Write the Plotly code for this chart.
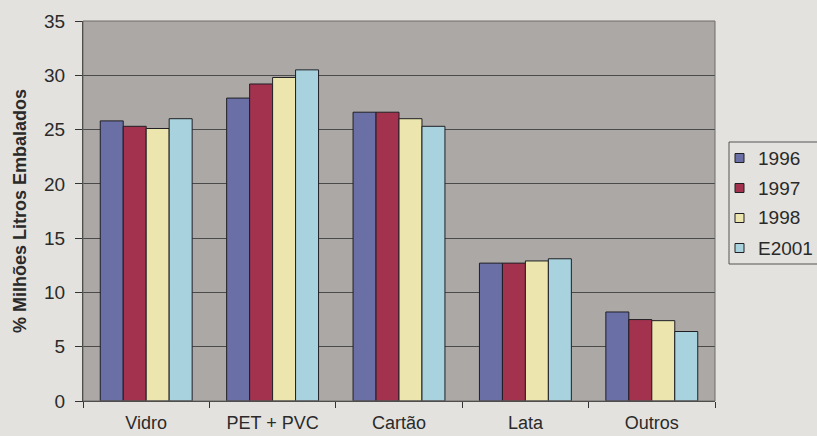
import plotly.graph_objects as go

categories = ["Vidro", "PET + PVC", "Cartão", "Lata", "Outros"]
years = ["1996", "1997", "1998", "E2001"]
v1996 = [25.8, 27.9, 26.6, 12.7, 8.2]
v1997 = [25.3, 29.2, 26.6, 12.7, 7.5]
v1998 = [25.1, 29.8, 26.0, 12.9, 7.4]
v2001 = [26.0, 30.5, 25.3, 13.1, 6.4]
colors = ["#6A6FA6", "#A3324E", "#ECE6AE", "#A8D3DE"]

series = [v1996, v1997, v1998, v2001]

W, H = 817, 436
ML, MR, MT, MB = 83, 102, 21, 35

fig = go.Figure()
for name, vals, col in zip(years, series, colors):
    fig.add_trace(go.Bar(
        x=categories, y=vals, name=name,
        marker=dict(color=col, line=dict(color="#1f1f24", width=1)),
        showlegend=False,
    ))

font_family = "Liberation Sans, Arial, sans-serif"
text_col = "#2a2a2a"

fig.update_layout(
    width=W, height=H,
    margin=dict(l=ML, r=MR, t=MT, b=MB, autoexpand=False),
    paper_bgcolor="#E4E2DE",
    plot_bgcolor="#ACA8A6",
    barmode="group",
    bargap=0.273,
    bargroupgap=0,
    font=dict(family=font_family, color=text_col),
)

fig.update_xaxes(
    type="category", tickson="boundaries",
    ticks="outside", ticklen=6, tickcolor="#333333",
    showline=True, linecolor="#333333", linewidth=1,
    tickfont=dict(size=18),
    showgrid=False, automargin=False,
    ticklabelstandoff=5,
)
fig.update_yaxes(
    range=[0, 35], dtick=5, tick0=0,
    ticks="outside", ticklen=7, tickcolor="#333333",
    showline=True, linecolor="#333333", linewidth=1,
    showgrid=True, gridcolor="#4a4a4a", gridwidth=1,
    zeroline=False,
    tickfont=dict(size=19),
    ticklabelstandoff=6,
    title=dict(text="<b>% Milhões Litros Embalados</b>", font=dict(size=18), standoff=12),
    automargin=False,
)

# thin border round the plotting area
fig.add_shape(type="rect", xref="paper", yref="paper", x0=0, y0=0, x1=1, y1=1,
              line=dict(color="#6e6a68", width=1), layer="above")

# legend box drawn in pixel space to the right of the plot
pw = W - ML - MR
ph = H - MT - MB


def px_x(x):
    return (x - ML) / pw


def px_y(y):
    return (H - MB - y) / ph


fig.add_shape(type="rect", xref="paper", yref="paper",
              x0=px_x(729), x1=px_x(822), y0=px_y(264), y1=px_y(142),
              line=dict(color="#555555", width=1), fillcolor="#E4E2DE")
for i, (name, col) in enumerate(zip(years, colors)):
    yc = 158 + 30 * i
    fig.add_shape(type="rect", xref="paper", yref="paper",
                  x0=px_x(735), x1=px_x(744), y0=px_y(yc + 4.5), y1=px_y(yc - 4.5),
                  line=dict(color="#1f1f24", width=1), fillcolor=col)
    fig.add_annotation(xref="paper", yref="paper", x=px_x(756), y=px_y(yc),
                       text=name, showarrow=False, xanchor="left", yanchor="middle",
                       font=dict(size=19, color=text_col, family=font_family))

fig.write_html("out.html")
